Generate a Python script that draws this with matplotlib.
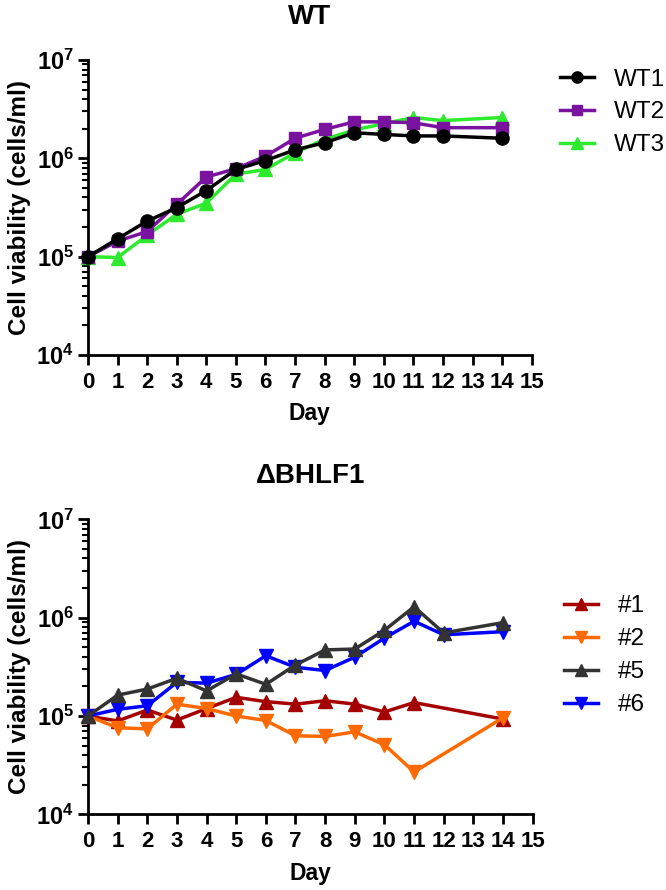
import numpy as np
import matplotlib
matplotlib.use("Agg")
import matplotlib.pyplot as plt
from matplotlib.ticker import FixedLocator, FixedFormatter, LogLocator, NullFormatter

plt.rcParams['font.family'] = ['Liberation Sans', 'DejaVu Sans']
plt.rcParams['mathtext.fontset'] = 'custom'
plt.rcParams['mathtext.rm'] = 'Liberation Sans:bold'
plt.rcParams['mathtext.bf'] = 'Liberation Sans:bold'

# days
days_wt = [0, 1, 2, 3, 4, 5, 6, 7, 8, 9, 10, 11, 12, 14]
days_ko = [0, 1, 2, 3, 4, 5, 6, 7, 8, 9, 10, 11, 12, 14]

# WT panel (cells/ml)
wt1 = [1.0e5, 1.52e5, 2.3e5, 3.15e5, 4.7e5, 7.7e5, 9.5e5, 1.22e6, 1.44e6, 1.82e6, 1.75e6, 1.69e6, 1.69e6, 1.6e6]
wt2 = [1.0e5, 1.44e5, 1.8e5, 3.4e5, 6.45e5, 7.85e5, 1.05e6, 1.6e6, 1.97e6, 2.35e6, 2.35e6, 2.3e6, 2.05e6, 2.05e6]
wt3 = [1.0e5, 0.98e5, 1.65e5, 2.7e5, 3.5e5, 6.9e5, 7.7e5, 1.14e6, 1.56e6, 1.94e6, 2.25e6, 2.6e6, 2.42e6, 2.6e6]

# delta BHLF1 panel (cells/ml), day 12 missing for #1 and #2
ko1 = [1.0e5, 0.89e5, 1.15e5, 0.91e5, 1.19e5, 1.55e5, 1.4e5, 1.32e5, 1.43e5, 1.32e5, 1.1e5, 1.37e5, np.nan, 0.93e5]
ko2 = [1.0e5, 0.76e5, 0.74e5, 1.32e5, 1.19e5, 1.0e5, 0.9e5, 0.63e5, 0.62e5, 0.69e5, 0.51e5, 0.27e5, np.nan, 0.96e5]
ko5 = [1.0e5, 1.63e5, 1.88e5, 2.42e5, 1.8e5, 2.68e5, 2.1e5, 3.3e5, 4.7e5, 4.8e5, 7.45e5, 1.29e6, 7.0e5, 8.9e5]
ko6 = [1.0e5, 1.17e5, 1.27e5, 2.2e5, 2.16e5, 2.65e5, 4.1e5, 3.13e5, 2.9e5, 3.97e5, 6.2e5, 9.2e5, 6.7e5, 7.2e5]

xticks = list(range(16))
ydecades = [1e4, 1e5, 1e6, 1e7]
ylabels = [r'$\mathbf{10^{4}}$', r'$\mathbf{10^{5}}$', r'$\mathbf{10^{6}}$', r'$\mathbf{10^{7}}$']


def ms(x, y):
    # drop missing points so lines connect across gaps
    x = np.array(x, dtype=float)
    y = np.array(y, dtype=float)
    m = ~np.isnan(y)
    return x[m], y[m]


def style_axes(ax, title):
    ax.set_yscale('log')
    ax.set_xlim(0, 15)
    ax.set_ylim(1e4, 1e7)
    for s in ['top', 'right']:
        ax.spines[s].set_visible(False)
    for s in ['left', 'bottom']:
        ax.spines[s].set_linewidth(2)
    ax.xaxis.set_major_locator(FixedLocator(xticks))
    ax.yaxis.set_major_locator(FixedLocator(ydecades))
    ax.yaxis.set_major_formatter(FixedFormatter(ylabels))
    ax.yaxis.set_minor_locator(LogLocator(base=10, subs=np.arange(2, 10), numticks=20))
    ax.yaxis.set_minor_formatter(NullFormatter())
    ax.tick_params(axis='x', which='major', direction='out', length=7, width=2,
                   labelsize=16, pad=5)
    ax.tick_params(axis='y', which='major', direction='out', length=7, width=2,
                   labelsize=17, pad=3)
    ax.tick_params(axis='y', which='minor', direction='out', length=4, width=1.5)
    for lab in ax.get_xticklabels():
        lab.set_fontweight('bold')
    ax.set_xlabel('Day', fontsize=16.5, fontweight='bold', labelpad=7)
    ax.set_ylabel('Cell viability (cells/ml)', fontsize=17.5, fontweight='bold', labelpad=4)
    ax.set_title(title, fontsize=20, fontweight='bold', pad=26)


fig = plt.figure(figsize=(6.66, 8.9), dpi=100)

lw = 2.5
leg_kw = dict(frameon=False, fontsize=17.5, borderpad=0, borderaxespad=0, handlelength=1.4,
              handletextpad=0.8, labelspacing=0.45, markerscale=0.85)

ax1 = fig.add_axes([0.1321, 0.6011, 0.6662, 0.3315])
ax1.plot(*ms(days_wt, wt3), color='#2eea2e', marker='^', markersize=9.5, lw=lw, label='WT3', clip_on=False, zorder=3)
ax1.plot(*ms(days_wt, wt2), color='#7a12a0', marker='s', markersize=8.5, lw=lw, label='WT2', clip_on=False, zorder=4)
ax1.plot(*ms(days_wt, wt1), color='black', marker='o', markersize=9.5, lw=lw, label='WT1', clip_on=False, zorder=5)
style_axes(ax1, 'WT')
h, l = ax1.get_legend_handles_labels()
ax1.legend(h[::-1], l[::-1], loc='upper left', bbox_to_anchor=(0.841, 0.923),
           bbox_transform=fig.transFigure, **leg_kw)

ax2 = fig.add_axes([0.1321, 0.0850, 0.6677, 0.3315])
ax2.plot(*ms(days_ko, ko1), color='#a50000', marker='^', markersize=9.5, lw=lw, label='#1', clip_on=False, zorder=3)
ax2.plot(*ms(days_ko, ko2), color='#ff6a00', marker='v', markersize=9.5, lw=lw, label='#2', clip_on=False, zorder=3)
ax2.plot(*ms(days_ko, ko5), color='#333333', marker='^', markersize=9.5, lw=lw, label='#5', clip_on=False, zorder=4)
ax2.plot(*ms(days_ko, ko6), color='#0000ff', marker='v', markersize=9.5, lw=lw, label='#6', clip_on=False, zorder=3)
style_axes(ax2, '\u0394BHLF1')
ax2.legend(loc='upper left', bbox_to_anchor=(0.847, 0.331), bbox_transform=fig.transFigure, **leg_kw)

fig.savefig('out.png', dpi=100)
